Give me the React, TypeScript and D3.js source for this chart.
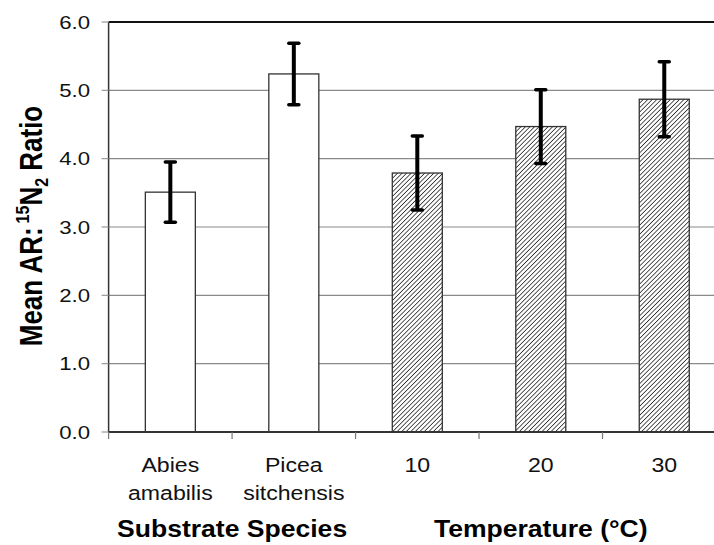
import * as d3 from "d3";

// Data
const categories = ["Abies amabilis", "Picea sitchensis", "10", "20", "30"];
const categoryLines = [["Abies", "amabilis"], ["Picea", "sitchensis"], ["10"], ["20"], ["30"]];
const means = [3.51, 5.24, 3.79, 4.47, 4.87];
const errors = [0.44, 0.45, 0.54, 0.54, 0.55];
const hatched = [false, false, true, true, true];
const yTicks = [0, 1, 2, 3, 4, 5, 6];
const groupTitles = ["Substrate Species", "Temperature (°C)"];
const groupMembers = [[0, 1], [2, 3, 4]];

const width = 714;
const height = 545;
const margin = { left: 108.6, right: -12, top: 22, bottom: 113 };
const font = "'Liberation Sans', Arial, Helvetica, sans-serif";

export default function App() {
  const x = d3
    .scaleBand<string>()
    .domain(categories)
    .range([margin.left, width - margin.right])
    .padding(0);

  const y = d3
    .scaleLinear()
    .domain([0, 6])
    .range([height - margin.bottom, margin.top]);

  const barW = x.bandwidth() * 0.405;
  const center = (c: string) => (x(c) as number) + x.bandwidth() / 2;
  const y0 = y(0);

  // tick marks between categories
  const xTickPos = d3.range(categories.length + 1).map((i) => margin.left + i * x.step());

  return (
    <svg
      width={width}
      height={height}
      viewBox={`0 0 ${width} ${height}`}
      style={{ position: "absolute", left: 0, top: 0, background: "#fff" }}
    >
      <defs>
        <pattern
          id="hatch"
          width="3.2"
          height="3.2"
          patternUnits="userSpaceOnUse"
          patternTransform="rotate(45)"
        >
          <rect width="3.2" height="3.2" fill="#fff" />
          <line x1="0" y1="0" x2="0" y2="3.2" stroke="#111" strokeWidth="1.4" />
        </pattern>
      </defs>
      <rect width={width} height={height} fill="#fff" />

      {/* gridlines */}
      {yTicks.map((t) => (
        <line
          key={"g" + t}
          x1={margin.left}
          x2={width}
          y1={y(t)}
          y2={y(t)}
          stroke={t === 6 ? "#111" : "#8a8a8a"}
          strokeWidth={t === 6 ? 2 : 1.2}
        />
      ))}

      {/* y axis */}
      <line x1={margin.left} x2={margin.left} y1={y(6)} y2={y0} stroke="#333" strokeWidth={1.5} />
      {yTicks.map((t) => (
        <g key={"yt" + t}>
          <line x1={margin.left - 7} x2={margin.left} y1={y(t)} y2={y(t)} stroke="#999" strokeWidth={1.2} />
          <text
            transform={`translate(90,${y(t) + 6.8}) scale(1.2,1)`}
            textAnchor="end"
            fontFamily={font}
            fontSize={18.5}
            fill="#111"
          >
            {d3.format(".1f")(t)}
          </text>
        </g>
      ))}

      {/* bars */}
      {categories.map((c, i) => (
        <rect
          key={"b" + c}
          x={center(c) - barW / 2}
          y={y(means[i])}
          width={barW}
          height={y0 - y(means[i])}
          fill={hatched[i] ? "url(#hatch)" : "#fff"}
          stroke="#333"
          strokeWidth={1.3}
        />
      ))}

      {/* error bars */}
      {categories.map((c, i) => {
        const cx = center(c);
        const hi = y(means[i] + errors[i]);
        const lo = y(means[i] - errors[i]);
        return (
          <g key={"e" + c} stroke="#000">
            <line x1={cx} x2={cx} y1={hi} y2={lo} strokeWidth={4} />
            <line x1={cx - 5} x2={cx + 5} y1={hi} y2={hi} strokeWidth={3.5} strokeLinecap="round" />
            <line x1={cx - 5} x2={cx + 5} y1={lo} y2={lo} strokeWidth={3.5} strokeLinecap="round" />
          </g>
        );
      })}

      {/* x axis */}
      <line x1={margin.left} x2={width} y1={y0} y2={y0} stroke="#333" strokeWidth={1.8} />
      {xTickPos.map((p, i) => (
        <line key={"xt" + i} x1={p} x2={p} y1={y0} y2={y0 + 7} stroke="#777" strokeWidth={1.2} />
      ))}

      {/* category labels */}
      {categories.map((c, i) => (
        <g key={"l" + c}>
          {categoryLines[i].map((ln, j) => (
            <text
              key={j}
              transform={`translate(${center(c)},${472 + j * 28}) scale(1.1,1)`}
              textAnchor="middle"
              fontFamily={font}
              fontSize={21}
              fill="#111"
            >
              {ln}
            </text>
          ))}
        </g>
      ))}

      {/* group titles */}
      {groupTitles.map((g, k) => (
        <text
          key={g}
          transform={`translate(${d3.mean(groupMembers[k], (i) => center(categories[i]))},537) scale(1.13,1)`}
          textAnchor="middle"
          fontFamily={font}
          fontWeight="bold"
          fontSize={23.5}
          fill="#000"
        >
          {g}
        </text>
      ))}

      {/* y axis title */}
      <text
        transform={`translate(42,226) scale(1.2,1) rotate(-90)`}
        textAnchor="middle"
        fontFamily={font}
        fontWeight="bold"
        fontSize={26}
        fill="#000"
      >
        Mean AR:
        <tspan fontSize={16} dy={-11} dx={4}>15</tspan>
        <tspan dy={11}>N</tspan>
        <tspan fontSize={16} dy={5}>2</tspan>
        <tspan dy={-5}> Ratio</tspan>
      </text>
    </svg>
  );
}
